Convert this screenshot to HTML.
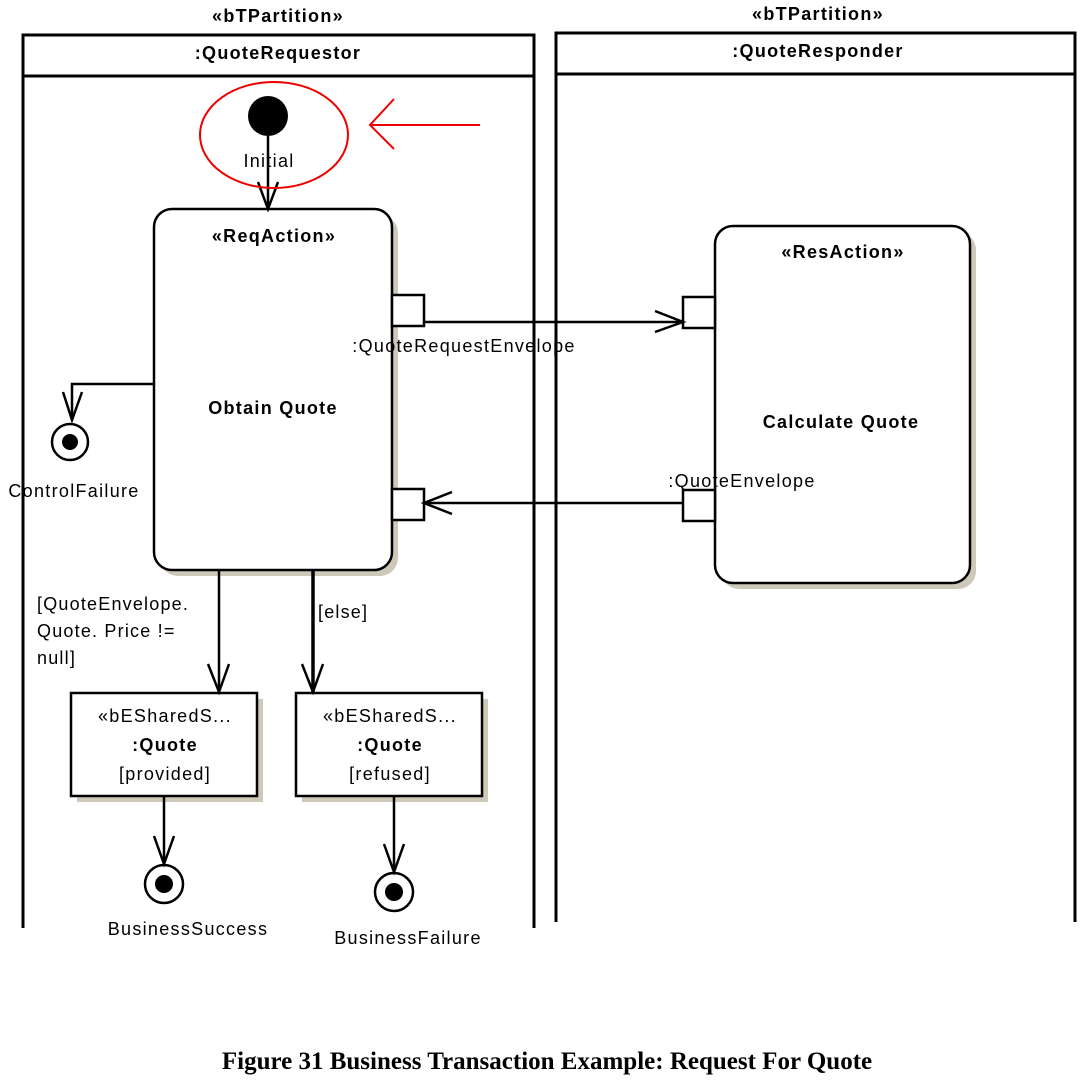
<!DOCTYPE html>
<html><head><style>body{margin:0;background:#fff}svg{display:block}</style></head><body>
<svg width="1084" height="1081" viewBox="0 0 1084 1081" xmlns="http://www.w3.org/2000/svg" font-family="Liberation Sans, sans-serif">
<rect width="1084" height="1081" fill="#fff"/>
<g stroke="#000" stroke-width="3" fill="none">
<path d="M23,928 V35 H534 V928"/>
<line x1="23" y1="76" x2="534" y2="76"/>
<path d="M556,922 V33 H1075 V922"/>
<line x1="556" y1="74" x2="1075" y2="74"/>
</g>
<g font-weight="bold" font-size="18" letter-spacing="1.3" text-anchor="middle">
<text x="278" y="22">«bTPartition»</text>
<text x="278" y="59">:QuoteRequestor</text>
<text x="818" y="20">«bTPartition»</text>
<text x="818" y="57">:QuoteResponder</text>
</g>
<g fill="#cdc8b8">
<rect x="160" y="215" width="238" height="361" rx="18"/>
<rect x="721" y="232" width="255" height="357" rx="18"/>
<rect x="77" y="699" width="186" height="103"/>
<rect x="302" y="699" width="186" height="103"/>
</g>
<g stroke="#000" stroke-width="2.5" fill="#fff">
<rect x="154" y="209" width="238" height="361" rx="18"/>
<rect x="715" y="226" width="255" height="357" rx="18"/>
<rect x="71" y="693" width="186" height="103"/>
<rect x="296" y="693" width="186" height="103"/>
<rect x="392" y="295" width="32" height="31"/>
<rect x="392" y="489" width="32" height="31"/>
<rect x="683" y="297" width="32" height="31"/>
<rect x="683" y="490" width="32" height="31"/>
</g>
<circle cx="268" cy="116" r="20" fill="#000"/>
<g stroke="#000" stroke-width="2.5" fill="none">
<line x1="268" y1="136" x2="268" y2="209"/>
<path d="M258,182 L268,209 L278,182"/>
<line x1="424" y1="322" x2="683" y2="322"/>
<path d="M655,311 L683,322 L655,332"/>
<line x1="683" y1="503" x2="424" y2="503"/>
<path d="M452,492 L424,503 L452,514"/>
<path d="M154,384 H72 V420"/>
<path d="M63,392 L72,420 L82,392"/>
<circle cx="70" cy="442" r="18"/>
<line x1="219" y1="570" x2="219" y2="692"/>
<path d="M208,664 L219,692 L229,664"/>
<line x1="313" y1="570" x2="313" y2="692" stroke-width="3.5"/>
<path d="M302,664 L313,692 L323,664"/>
<line x1="164" y1="796" x2="164" y2="864"/>
<path d="M154,836 L164,864 L174,836"/>
<circle cx="164" cy="884" r="19"/>
<line x1="394" y1="796" x2="394" y2="872"/>
<path d="M384,844 L394,872 L404,844"/>
<circle cx="394" cy="892" r="19"/>
</g>
<circle cx="70" cy="442" r="8" fill="#000"/>
<circle cx="164" cy="884" r="9" fill="#000"/>
<circle cx="394" cy="892" r="9" fill="#000"/>
<g stroke="#e00" stroke-width="2" fill="none">
<ellipse cx="274" cy="135" rx="74" ry="53"/>
<line x1="370" y1="125" x2="480" y2="125"/>
<path d="M394,99 L370,125 L394,149"/>
</g>
<g font-size="18" letter-spacing="1.3" text-anchor="middle">
<text x="269" y="167">Initial</text>
<text x="274" y="242" font-weight="bold">«ReqAction»</text>
<text x="273" y="414" font-weight="bold">Obtain Quote</text>
<text x="843" y="258" font-weight="bold">«ResAction»</text>
<text x="841" y="428" font-weight="bold">Calculate Quote</text>
<text x="464" y="352">:QuoteRequestEnvelope</text>
<text x="742" y="487">:QuoteEnvelope</text>
<text x="74" y="497">ControlFailure</text>
<text x="165" y="722">«bESharedS...</text>
<text x="165" y="751" font-weight="bold">:Quote</text>
<text x="165" y="780">[provided]</text>
<text x="390" y="722">«bESharedS...</text>
<text x="390" y="751" font-weight="bold">:Quote</text>
<text x="390" y="780">[refused]</text>
<text x="188" y="935">BusinessSuccess</text>
<text x="408" y="944">BusinessFailure</text>
</g>
<g font-size="18" letter-spacing="1.2">
<text x="37" y="610">[QuoteEnvelope.</text>
<text x="37" y="637">Quote. Price !=</text>
<text x="37" y="664">null]</text>
<text x="318" y="618">[else]</text>
</g>
<text x="547" y="1069" text-anchor="middle" font-family="Liberation Serif, serif" font-weight="bold" font-size="25">Figure 31 Business Transaction Example: Request For Quote</text>
</svg>
</body></html>
